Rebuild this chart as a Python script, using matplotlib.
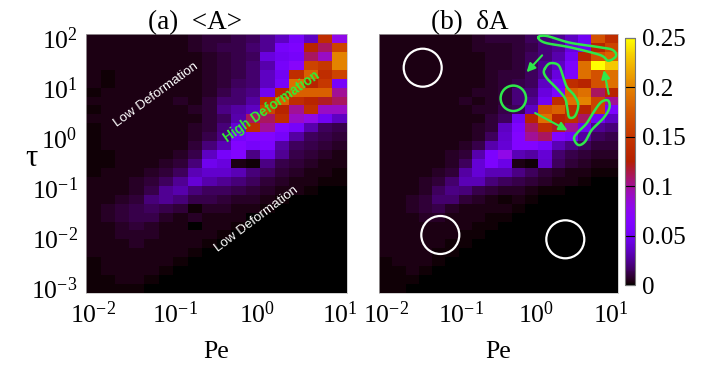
import numpy as np
import matplotlib
matplotlib.use("Agg")
import matplotlib.pyplot as plt
from matplotlib.patches import Circle

plt.rcParams['font.family'] = 'Liberation Serif'
plt.rcParams['mathtext.fontset'] = 'custom'
plt.rcParams['mathtext.rm'] = 'Liberation Serif'
plt.rcParams['mathtext.it'] = 'Liberation Serif:italic'

# ------------------------------------------------------------------ data
# grid: 18 Pe values (1e-2 .. 1e1), 29 tau values (1e2 .. 1e-3, top -> bottom)
N_PE, N_TAU = 18, 29
CB_TICKS = [0, 0.05, 0.1, 0.15, 0.2, 0.25]
CB_LABELS = ["0", "0.05", "0.1", "0.15", "0.2", "0.25"]

# values in units of 0.01, one list per tau row (top row = tau 1e2)
mean_A = [
    [0.3, 0.3, 0.3, 0.3, 0.3, 0.3, 0.3, 0.6, 0.9, 0.9, 1.2, 1.5, 2.5, 3.5, 5.5, 3.5, 14, 8],
    [0.3, 0.3, 0.3, 0.3, 0.3, 0.3, 0.3, 0.6, 0.9, 1.2, 1.2, 1.8, 2.5, 5.5, 6, 13, 11, 16],
    [0.3, 0.3, 0.3, 0.3, 0.3, 0.3, 0.3, 0.3, 0.6, 0.9, 1.2, 1.5, 4.2, 5, 5.5, 11, 9, 20],
    [0.3, 0.3, 0.3, 0.3, 0.3, 0.3, 0.3, 0.3, 0.6, 0.9, 1.2, 1.8, 3, 5.5, 7, 16, 15, 20],
    [0.3, 0.1, 0.3, 0.3, 0.3, 0.3, 0.3, 0.3, 0.6, 0.9, 1.2, 1.8, 3.5, 5, 14, 18, 14, 16],
    [0.3, 0.1, 0.3, 0.3, 0.3, 0.3, 0.3, 0.3, 0.6, 0.9, 1.5, 1.8, 3.5, 5.5, 19, 13, 15, 5.5],
    [0.1, 0.3, 0.3, 0.3, 0.3, 0.3, 0.3, 0.3, 0.6, 1.2, 1.8, 2.2, 5, 13, 18, 18, 18, 10],
    [0.3, 0.3, 0.3, 0.3, 0.3, 0.3, 0.6, 0.3, 0.9, 1.8, 1.8, 2.8, 14, 18, 14, 13, 12, 11],
    [0.1, 0.3, 0.3, 0.3, 0.3, 0.3, 0.3, 0.6, 0.9, 2.2, 2.8, 3.5, 16, 13, 10, 14, 9, 9],
    [0.3, 0.3, 0.3, 0.3, 0.3, 0.3, 0.3, 0.3, 0.9, 1.5, 3, 11, 11, 14, 9, 8, 5, 3.5],
    [0.1, 0.3, 0.3, 0.3, 0.3, 0.3, 0.3, 0.6, 0.9, 2, 4, 14, 10, 6.5, 5.5, 3, 1.5, 1.2],
    [0.1, 0.3, 0.3, 0.3, 0.3, 0.3, 0.3, 0.6, 1.2, 2.2, 5.5, 6.5, 6.5, 5.5, 2.8, 1.5, 1.2, 0.9],
    [0.1, 0.3, 0.3, 0.3, 0.3, 0.3, 0.3, 0.9, 2, 3.2, 6.5, 5.5, 6, 2.8, 1.5, 1.2, 0.9, 0.6],
    [0.1, 0.1, 0.3, 0.3, 0.3, 0.3, 0.6, 1.2, 3.5, 5.5, 6.5, 2.2, 4.5, 2.5, 1.2, 0.9, 0.6, 0.3],
    [0.1, 0.1, 0.3, 0.3, 0.3, 0.6, 0.9, 2, 4.8, 4.2, 0.3, 0.1, 2.2, 1.2, 0.9, 0.6, 0.3, 0.3],
    [0.1, 0.3, 0.3, 0.3, 0.6, 0.9, 1.5, 3.2, 3.8, 3.8, 3.2, 2, 1.5, 0.9, 0.6, 0.3, 0.3, 0.1],
    [0.3, 0.3, 0.3, 0.6, 0.9, 1.5, 2.5, 4, 3, 2.5, 2, 1.5, 0.9, 0.6, 0.3, 0.3, 0.1, 0.1],
    [0.3, 0.3, 0.3, 0.6, 1.2, 2.5, 3, 2, 1.5, 1.5, 1.2, 0.9, 0.6, 0.3, 0.3, 0.1, 0.05, 0],
    [0.3, 0.3, 0.6, 0.9, 2, 2.5, 2, 1.2, 1.2, 0.9, 0.6, 0.6, 0.3, 0.1, 0.05, 0.05, 0, 0],
    [0.3, 0.6, 0.9, 1.2, 1.5, 1.2, 0.9, 0.1, 0.6, 0.6, 0.3, 0.3, 0.1, 0.05, 0, 0, 0, 0],
    [0.3, 0.6, 0.9, 1.2, 1.2, 0.6, 0.3, 0.6, 0.3, 0.3, 0.3, 0.05, 0, 0, 0, 0, 0, 0],
    [0.3, 0.3, 0.6, 0.9, 0.6, 0.3, 0.3, 0.05, 0.3, 0.3, 0.1, 0, 0, 0, 0, 0, 0, 0],
    [0.3, 0.3, 0.6, 0.6, 0.6, 0.3, 0.3, 0.3, 0.3, 0.1, 0, 0, 0, 0, 0, 0, 0, 0],
    [0.3, 0.3, 0.3, 0.6, 0.3, 0.3, 0.3, 0.3, 0.1, 0, 0, 0, 0, 0, 0, 0, 0, 0],
    [0.3, 0.3, 0.3, 0.3, 0.3, 0.3, 0.3, 0.1, 0, 0, 0, 0, 0, 0, 0, 0, 0, 0],
    [0.1, 0.3, 0.3, 0.3, 0.3, 0.3, 0.1, 0, 0, 0, 0, 0, 0, 0, 0, 0, 0, 0],
    [0.1, 0.3, 0.3, 0.3, 0.3, 0.1, 0, 0, 0, 0, 0, 0, 0, 0, 0, 0, 0, 0],
    [0.1, 0.1, 0.3, 0.3, 0.1, 0, 0, 0, 0, 0, 0, 0, 0, 0, 0, 0, 0, 0],
    [0.1, 0.1, 0.1, 0.1, 0, 0, 0, 0, 0, 0, 0, 0, 0, 0, 0, 0, 0, 0],
]

delta_A = [
    [0.3, 0.3, 0.3, 0.3, 0.3, 0.3, 0.3, 0.6, 0.9, 0.9, 0.9, 1.5, 2, 2.5, 3.5, 5, 17, 14],
    [0.3, 0.3, 0.3, 0.3, 0.3, 0.3, 0.3, 0.6, 0.6, 0.6, 0.9, 1.2, 2, 2.5, 4.2, 5, 13, 16],
    [0.3, 0.3, 0.3, 0.3, 0.3, 0.3, 0.3, 0.3, 0.6, 0.6, 0.9, 1.5, 2, 3, 5, 13, 17, 18],
    [0.3, 0.3, 0.3, 0.3, 0.3, 0.3, 0.3, 0.3, 0.6, 0.6, 0.9, 1.5, 2.5, 3.5, 6, 19, 25, 23],
    [0.3, 0.3, 0.3, 0.3, 0.3, 0.3, 0.3, 0.3, 0.6, 0.9, 0.9, 1.5, 2.5, 4.2, 6, 19, 17, 19],
    [0.3, 0.3, 0.3, 0.3, 0.3, 0.3, 0.3, 0.3, 0.6, 0.9, 1.2, 1.5, 3.5, 5, 14, 13, 17, 19],
    [0.3, 0.3, 0.3, 0.3, 0.3, 0.3, 0.3, 0.6, 0.6, 0.9, 2, 2, 4.2, 6, 18, 19, 11, 13],
    [0.3, 0.3, 0.3, 0.3, 0.3, 0.3, 0.6, 0.3, 0.6, 0.9, 2, 2.5, 5, 14, 19, 20, 16, 10],
    [0.3, 0.3, 0.3, 0.3, 0.3, 0.3, 0.3, 0.6, 0.6, 1.2, 1.5, 3.5, 17, 18, 14, 13, 16, 6],
    [0.3, 0.3, 0.3, 0.3, 0.3, 0.3, 0.3, 0.3, 0.9, 1.5, 5, 13, 19, 13, 14, 11, 5, 3.5],
    [0.3, 0.3, 0.3, 0.3, 0.3, 0.3, 0.3, 0.6, 0.9, 3.5, 6, 11, 14, 12, 10, 5, 2.5, 2],
    [0.3, 0.3, 0.3, 0.3, 0.3, 0.3, 0.3, 0.6, 1.5, 3.8, 6.5, 10, 11, 6.5, 5.5, 2.8, 1.5, 1.2],
    [0.3, 0.3, 0.3, 0.3, 0.3, 0.3, 0.6, 1.2, 3, 4, 6.5, 6.5, 5.5, 3.2, 2.2, 1.5, 0.9, 0.9],
    [0.3, 0.3, 0.3, 0.3, 0.3, 0.6, 0.9, 3, 6, 8, 3.2, 2.8, 4, 1.8, 1.2, 0.9, 0.6, 0.6],
    [0.3, 0.3, 0.3, 0.3, 0.3, 0.6, 1.5, 4, 6, 4.5, 0.3, 0.1, 3.8, 1.5, 0.9, 0.6, 0.3, 0.3],
    [0.3, 0.3, 0.3, 0.3, 0.6, 0.9, 2.8, 4, 3.2, 3.2, 2.2, 1.5, 0.9, 0.6, 0.3, 0.3, 0.1, 0.1],
    [0.3, 0.3, 0.3, 0.6, 0.9, 1.8, 3.2, 3.2, 2, 1.5, 1.2, 0.9, 0.6, 0.3, 0.3, 0.1, 0.05, 0.05],
    [0.3, 0.3, 0.3, 0.6, 1.5, 2.2, 2, 1.2, 0.9, 0.6, 0.6, 0.3, 0.1, 0.1, 0.05, 0, 0, 0],
    [0.3, 0.3, 0.6, 0.9, 1.8, 1.8, 0.9, 0.6, 0.3, 0.1, 0.3, 0.1, 0.05, 0, 0, 0, 0, 0],
    [0.3, 0.3, 0.6, 0.9, 1.2, 0.6, 0.3, 0.3, 0.3, 0.3, 0.1, 0.05, 0, 0, 0, 0, 0, 0],
    [0.3, 0.3, 0.3, 0.6, 0.6, 0.3, 0.3, 0.3, 0.1, 0.1, 0.05, 0, 0, 0, 0, 0, 0, 0],
    [0.3, 0.3, 0.3, 0.3, 0.3, 0.3, 0.3, 0.1, 0.1, 0.05, 0, 0, 0, 0, 0, 0, 0, 0],
    [0.3, 0.3, 0.3, 0.3, 0.3, 0.3, 0.1, 0.1, 0.05, 0, 0, 0, 0, 0, 0, 0, 0, 0],
    [0.3, 0.3, 0.3, 0.3, 0.3, 0.1, 0.1, 0.05, 0, 0, 0, 0, 0, 0, 0, 0, 0, 0],
    [0.3, 0.3, 0.3, 0.3, 0.1, 0.1, 0.05, 0, 0, 0, 0, 0, 0, 0, 0, 0, 0, 0],
    [0.1, 0.3, 0.3, 0.3, 0.1, 0.05, 0, 0, 0, 0, 0, 0, 0, 0, 0, 0, 0, 0],
    [0.1, 0.1, 0.3, 0.1, 0.05, 0, 0, 0, 0, 0, 0, 0, 0, 0, 0, 0, 0, 0],
    [0.1, 0.1, 0.1, 0.05, 0, 0, 0, 0, 0, 0, 0, 0, 0, 0, 0, 0, 0, 0],
    [0.1, 0.1, 0.05, 0, 0, 0, 0, 0, 0, 0, 0, 0, 0, 0, 0, 0, 0, 0],
]

# ------------------------------------------------------------------ grid edges
step_x = 3.0 / (N_PE - 1)
step_y = 5.0 / (N_TAU - 1)
pe_edges = 10 ** (-2 - step_x / 2 + step_x * np.arange(N_PE + 1))
tau_edges = 10 ** (2 + step_y / 2 - step_y * np.arange(N_TAU + 1))

W, H = 717, 370
fig = plt.figure(figsize=(W / 100, H / 100), dpi=100)


def px_axes(x0, x1, y0, y1):
    return fig.add_axes([x0 / W, 1 - y1 / H, (x1 - x0) / W, (y1 - y0) / H])


def heat(ax, data, show_y):
    m = ax.pcolormesh(pe_edges, tau_edges, np.array(data) / 100.0,
                      cmap="gnuplot", vmin=0, vmax=0.25, shading="flat")
    ax.set_xscale("log")
    ax.set_yscale("log")
    ax.set_xlim(pe_edges[0], pe_edges[-1])
    ax.set_ylim(tau_edges[-1], tau_edges[0])
    ax.set_xticks([1e-2, 1e-1, 1e0, 1e1])
    ax.set_yticks([1e-3, 1e-2, 1e-1, 1e0, 1e1, 1e2])
    ax.minorticks_off()
    ax.tick_params(length=0, labelsize=18.5, pad=6)
    if not show_y:
        ax.set_yticklabels([])
    for s in ax.spines.values():
        s.set_linewidth(0.5)
        s.set_edgecolor("#bbbbbb")
    return m


ax1 = px_axes(86, 347, 34, 293)
heat(ax1, mean_A, True)
ax2 = px_axes(379, 618, 34, 293)
mesh = heat(ax2, delta_A, False)

cax = px_axes(625, 635, 38, 285)
cb = fig.colorbar(mesh, cax=cax, ticks=CB_TICKS)
cb.ax.set_yticklabels(CB_LABELS)
cb.ax.tick_params(direction="in", length=7, width=0.8, labelsize=18, pad=5)
cb.outline.set_edgecolor("#777777")
cb.outline.set_linewidth(0.8)

fig.text(195 / W, 1 - 23 / H, "(a)  <A>", ha="center", va="center", fontsize=19.5)
fig.text(470 / W, 1 - 23 / H, "(b)  δA", ha="center", va="center", fontsize=19.5)
fig.text(216 / W, 1 - 352 / H, "Pe", ha="center", va="center", fontsize=18.5)
fig.text(498 / W, 1 - 352 / H, "Pe", ha="center", va="center", fontsize=18.5)
fig.text(31 / W, 1 - 158 / H, "τ", ha="center", va="center", fontsize=22)

# ------------------------------------------------------------------ overlay
ov = fig.add_axes([0, 0, 1, 1], zorder=10)
ov.set_xlim(0, W)
ov.set_ylim(H, 0)
ov.axis("off")
ov.patch.set_alpha(0)

sans = ["Liberation Sans", "DejaVu Sans"]
ov.text(156, 95, "Low Deformation", color="white", fontsize=9.6, rotation=36,
        ha="center", va="center", family=sans)
ov.text(257, 219, "Low Deformation", color="white", fontsize=9.6, rotation=37,
        ha="center", va="center", family=sans)
ov.text(272, 107, "High Deformation", color="#33ee33", fontsize=9.8,
        fontweight="bold", rotation=35, ha="center", va="center", family=sans)

green = "#2ee84a"
for cx, cy in [(422.7, 67.7), (440.3, 235), (565.3, 239.3)]:
    ov.add_patch(Circle((cx, cy), 19, fill=False, ec="white", lw=1.6))
ov.add_patch(Circle((513.3, 98.3), 12.7, fill=False, ec=green, lw=1.8))


def smooth_loop(pts, n=12):
    p = np.array(pts, dtype=float)
    out = []
    k = len(p)
    for i in range(k):
        p0, p1, p2, p3 = p[i - 1], p[i], p[(i + 1) % k], p[(i + 2) % k]
        for t in np.linspace(0, 1, n, endpoint=False):
            out.append(0.5 * ((2 * p1) + (-p0 + p2) * t
                              + (2 * p0 - 5 * p1 + 4 * p2 - p3) * t ** 2
                              + (-p0 + 3 * p1 - 3 * p2 + p3) * t ** 3))
    out.append(out[0])
    return np.array(out)


loops = [
    [(538.3, 37.3), (545, 42.7), (570, 47.3), (600, 55), (608.3, 60.7),
     (616, 56), (612.7, 50), (600, 47.3), (570, 42.7), (546.7, 36)],
    [(545, 68.3), (550, 63.3), (558.3, 65), (562.7, 75), (566.7, 86.7),
     (574, 95), (578.3, 105), (575, 116), (569.3, 117.3), (567.3, 108.3),
     (565, 98.3), (556.7, 88.3), (548.3, 80), (544, 73.3)],
    [(574, 138.3), (578.3, 145), (585, 141.7), (591.7, 130), (603.3, 118.3),
     (609.3, 108.3), (608.3, 100.7), (601.7, 101.7), (595, 110),
     (586.7, 123.3), (578.3, 131.7)],
]
for lp in loops:
    c = smooth_loop(lp)
    ov.plot(c[:, 0], c[:, 1], color=green, lw=1.8, solid_capstyle="round")

for (x0, y0), (x1, y1) in [((544, 53.3), (524.7, 74.3)),
                           ((532.7, 111.7), (570, 131.7)),
                           ((609.3, 96.7), (603.3, 67.3))]:
    ov.annotate("", xy=(x1, y1), xytext=(x0, y0),
                arrowprops=dict(arrowstyle="-|>,head_length=0.5,head_width=0.25",
                                color=green, lw=1.5))

fig.savefig("out.png", dpi=100, facecolor="white")
